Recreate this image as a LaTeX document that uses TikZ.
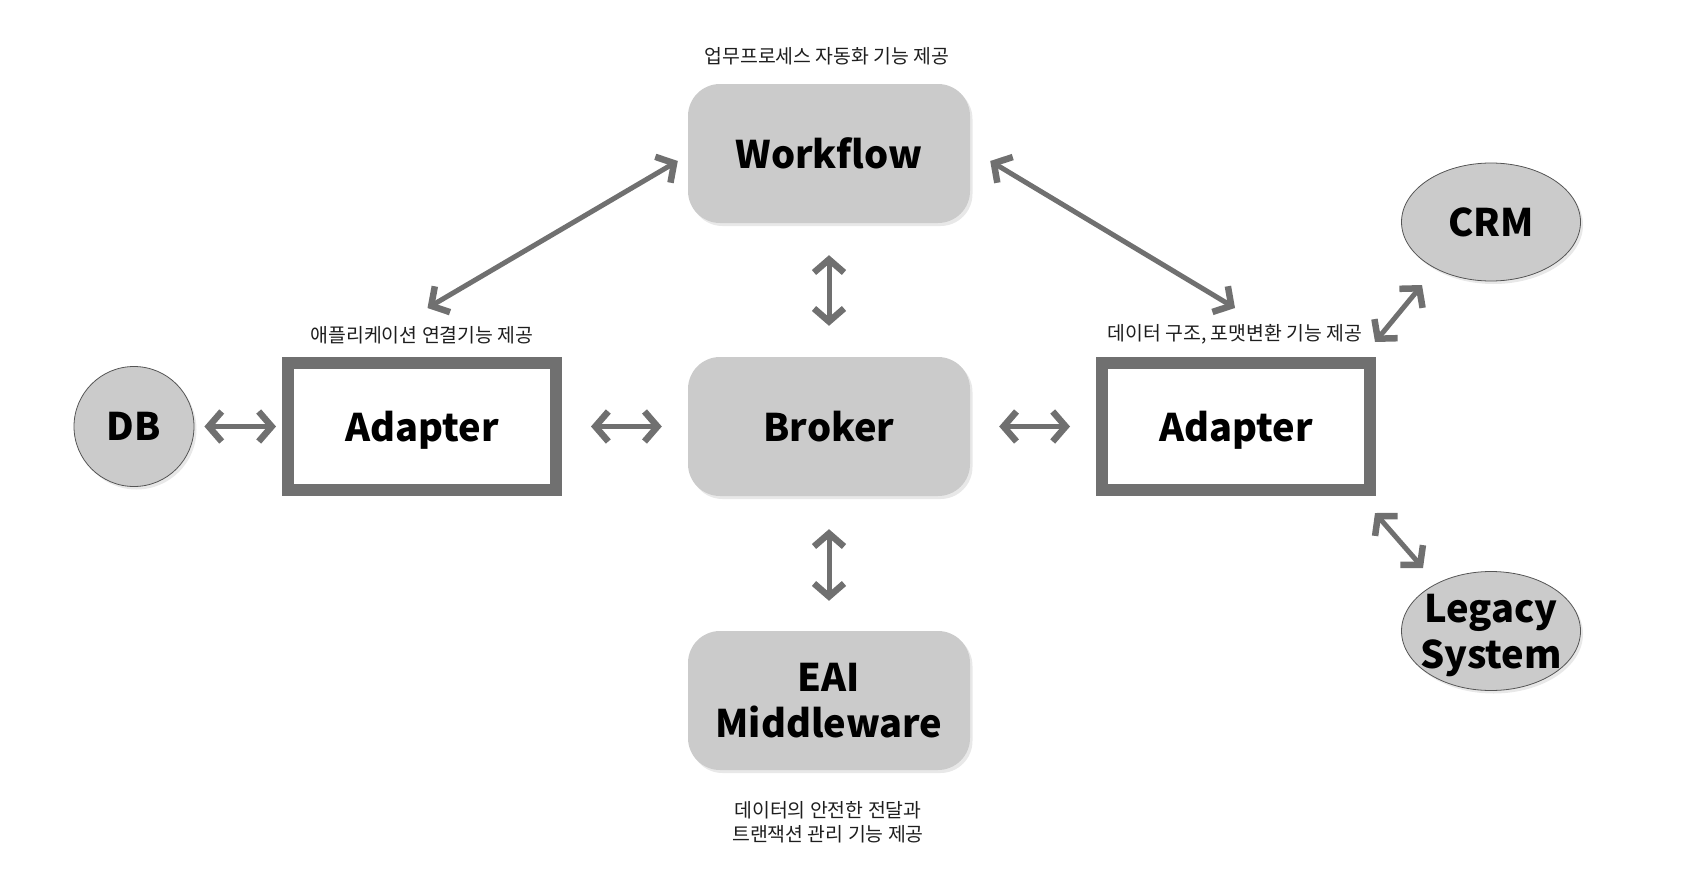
\documentclass[tikz,border=0pt]{standalone}
\usepackage{fontspec}
\setmainfont{Noto Sans CJK KR}
\usetikzlibrary{arrows.meta,shapes.geometric,shadows,calc}
\definecolor{boxgray}{HTML}{CBCBCB}
\definecolor{arrgray}{HTML}{707070}
\definecolor{edgegray}{HTML}{555555}
\definecolor{txt}{HTML}{1E1E1E}
\tikzset{
  softshadow/.style={drop shadow={opacity=0.18,shadow xshift=2.5pt,shadow yshift=-3pt}},
  graybox/.style={rectangle,rounded corners=32pt,fill=boxgray,minimum width=282pt,minimum height=139pt,
    inner sep=0pt,align=center,font=\fontsize{38}{46}\selectfont\bfseries,softshadow},
  adapterbox/.style={rectangle,draw=arrgray,line width=12pt,fill=white,minimum width=268pt,minimum height=127pt,
    inner sep=0pt,text depth=0pt,font=\fontsize{38}{46}\selectfont\bfseries},
  sysnode/.style={draw=edgegray,line width=0.8pt,fill=boxgray,inner sep=0pt,align=center,
    font=\fontsize{38}{46}\selectfont\bfseries,softshadow},
  note/.style={font=\fontsize{19.4}{24}\selectfont,text=txt,align=center,inner sep=0pt},
  arr/.style={draw=arrgray,line width=5pt,
    {Straight Barb[length=13pt,width=30pt,line width=6.5pt]}-{Straight Barb[length=13pt,width=30pt,line width=6.5pt]}}
}
\begin{document}
\begin{tikzpicture}[x=1pt,y=-1pt]
\useasboundingbox (0,0) rectangle (1684,870);
% main boxes
\node[graybox,text depth=0pt] (wf) at (829,153.5) {Workflow};
\node[graybox,text depth=0pt] (brk) at (829,426.5) {Broker};
\node[graybox] (eai) at (829,700.5) {EAI\\Middleware};
\node[adapterbox] (ladp) at (422,426.5) {Adapter};
\node[adapterbox] (radp) at (1236,426.5) {Adapter};
\node[sysnode,circle,minimum size=120pt] (db) at (134,426.5) {DB};
\node[sysnode,ellipse,minimum width=179pt,minimum height=118pt] (crm) at (1491,222) {CRM};
\node[sysnode,ellipse,inner xsep=-14pt,inner ysep=-12pt,text depth=0pt,minimum width=179pt,minimum height=119pt] (leg) at (1491,631) {Legacy\\System};
% notes
\node[note] (nwf) at (827,56) {업무프로세스 자동화 기능 제공};
\node[note] (nladp) at (422,335) {애플리케이션 연결기능 제공};
\node[note] (nradp) at (1235,334) {데이터 구조, 포맷변환 기능 제공};
\node[note] (neai) at (828,822) {데이터의 안전한 전달과\\트랜잭션 관리 기능 제공};
% connectors
\draw[arr] ($(db.east)+(10,0)$) -- ($(ladp.west)+(-6,0)$);
\draw[arr] ($(ladp.east)+(29,0)$) -- ($(brk.west)+(-26,0)$);
\draw[arr] ($(brk.east)+(29,0)$) -- ($(radp.west)+(-26,0)$);
\draw[arr] ($(wf.south)+(0,32)$) -- ($(brk.north)+(0,-31)$);
\draw[arr] ($(brk.south)+(0,33)$) -- ($(eai.north)+(0,-30)$);
\draw[arr] ($(wf.west)+(-10,7.5)$) -- ($(ladp.north)+(5.5,-49)$);
\draw[arr] ($(wf.east)+(20,7.5)$) -- ($(radp.north)+(-1,-49)$);
\draw[arr] ($(radp.north east)+(-1,-15)$) -- ($(crm.center)+(-69,63)$);
\draw[arr] ($(radp.south east)+(-1,17)$) -- ($(leg.center)+(-68,-63)$);
\end{tikzpicture}
\end{document}
